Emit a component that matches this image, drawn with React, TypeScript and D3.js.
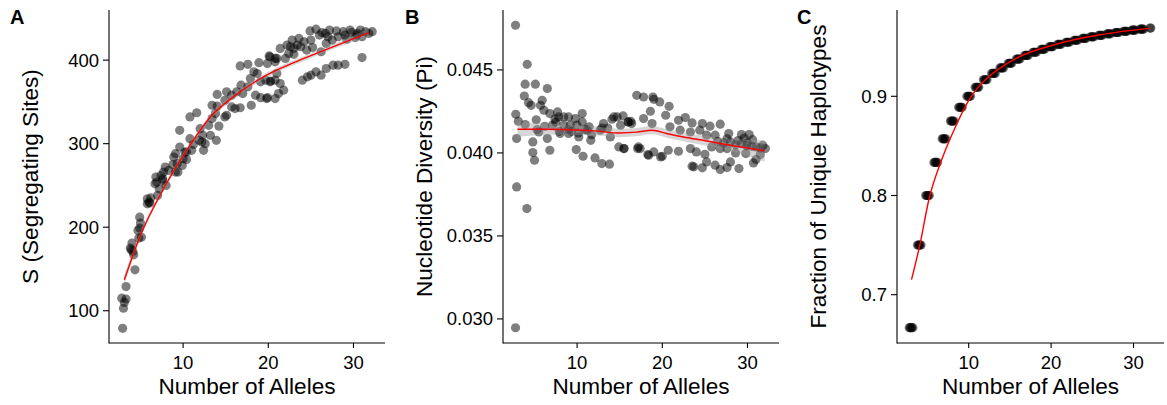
import React from "react";
import * as d3 from "d3";

const W = 1167;
const H = 405;
const FONT = "'Liberation Sans', Arial, Helvetica, sans-serif";
const TOP = 10;
const BOTTOM = 343;
const X_DOMAIN = [1.3, 33.7];
const X_TICKS = [10, 20, 30];

// ---- Panel A: segregating sites ----
const pointsA: [number, number][] = [
  [2.9, 79], [3.0, 103], [2.8, 115], [3.3, 114], [3.1, 110], [3.3, 129],
  [4.35, 149], [4.2, 167], [3.8, 175], [4.0, 181], [3.9, 173], [4.1, 171],
  [4.8, 187], [4.9, 199], [5.0, 205], [4.9, 212], [5.1, 188], [4.7, 196],
  [5.8, 234], [6.0, 230], [5.8, 228], [6.1, 229], [6.2, 235],
  [6.7, 252], [6.8, 260], [7.6, 256], [7.2, 246], [7.0, 238], [6.9, 254], [7.4, 262],
  [7.9, 272], [7.7, 266], [7.6, 258], [8.0, 250], [8.3, 268],
  [9.1, 266], [8.9, 284], [9.1, 288], [9.3, 276], [8.8, 275], [9.4, 266],
  [9.6, 296], [9.9, 274], [10.0, 282], [9.6, 316], [10.2, 290], [10.4, 281],
  [10.4, 290], [11.0, 292], [10.8, 306], [10.8, 332], [11.6, 337], [11.2, 299],
  [12.0, 318], [12.2, 302], [12.4, 292], [12.6, 300], [12.3, 310], [11.9, 304],
  [13.2, 310], [13.9, 304], [14.2, 321], [13.4, 330], [13.4, 346], [13.0, 322],
  [14.0, 345], [13.8, 336], [14.0, 359], [15.1, 362], [14.9, 352], [15.1, 334], [14.9, 332],
  [15.7, 344], [16.1, 342], [16.7, 343], [15.7, 358], [16.3, 362], [16.8, 370], [17.0, 360],
  [17.6, 368], [16.7, 393], [17.6, 395],
  [18.0, 346], [18.5, 358], [19.1, 355], [19.9, 355], [20.8, 354],
  [17.9, 378], [18.3, 386], [18.7, 384], [19.1, 374], [19.7, 376], [20.3, 375], [20.8, 376],
  [18.9, 397], [19.9, 396], [20.1, 405], [20.8, 402],
  [20.2, 404], [21.0, 402], [22.0, 402], [22.4, 408], [23.0, 407], [22.6, 416], [23.4, 418],
  [24.2, 422], [25.0, 424], [26.0, 430], [26.7, 432],
  [20.8, 398], [21.0, 384], [21.4, 372], [21.8, 364], [21.2, 360], [19.8, 354], [20.2, 374],
  [24.0, 376], [24.6, 380], [25.0, 382], [25.6, 386], [26.2, 382], [26.8, 390], [27.6, 394],
  [28.2, 394], [29.0, 395],
  [21.4, 414], [22.2, 418], [23.0, 414], [23.8, 416], [24.5, 412], [25.2, 415], [26.2, 410],
  [26.8, 420], [27.5, 424], [28.2, 428], [29.0, 430], [29.8, 433], [30.5, 432], [24.9, 435],
  [25.6, 437], [26.3, 433], [27.2, 436], [28.0, 435], [28.8, 434], [29.6, 436], [30.4, 430],
  [31.0, 428], [31.4, 434], [30.8, 436], [31.8, 432], [31.0, 403], [32.2, 434], [29.2, 425],
  [30.2, 427], [27.0, 428], [23.6, 426], [22.8, 424],
];
const smoothXA = [3.1, 4.9, 7.7, 10.8, 13.2, 15.9, 19.1, 21.4, 24.2, 28.1, 31.8];
const smoothYA = [137, 188, 246, 298, 332, 356, 378, 390, 402, 418, 433];
const seA = [6, 4, 3, 3, 3, 3, 3, 3, 3, 3, 5];

// ---- Panel B: nucleotide diversity ----
const pointsB: [number, number][] = [
  [2.77, 0.04769], [2.77, 0.02947], [2.9, 0.03795], [2.8, 0.04233], [3.1, 0.04191], [2.9, 0.04087],
  [4.14, 0.04534], [4.1, 0.03665], [3.9, 0.04414], [3.8, 0.04343], [4.3, 0.04303], [3.9, 0.04171], [4.6, 0.04287],
  [5.1, 0.04414], [4.8, 0.04066], [4.8, 0.04002], [5.0, 0.03956], [5.3, 0.0414], [5.2, 0.042],
  [6.5, 0.04388], [5.9, 0.04317], [5.7, 0.04287], [6.1, 0.04257], [5.5, 0.04126], [6.5, 0.04087],
  [6.8, 0.04016], [6.2, 0.0416],
  [6.8, 0.04237], [7.7, 0.04247], [7.1, 0.04167], [7.4, 0.04205], [7.9, 0.0413], [7.5, 0.04185],
  [7.84, 0.04217], [8.43, 0.04217], [9.0, 0.04217], [9.8, 0.04207], [10.6, 0.04187], [11.4, 0.04157],
  [8.43, 0.04167], [9.2, 0.04167], [9.98, 0.04167], [8.0, 0.04117], [9.0, 0.04117], [10.2, 0.04096],
  [11.6, 0.04076], [11.2, 0.04137], [9.9, 0.0402], [10.7, 0.0398], [12.1, 0.0397], [12.9, 0.03936],
  [13.8, 0.03932], [14.1, 0.04203], [14.7, 0.04217], [14.9, 0.04036], [15.5, 0.04026], [12.7, 0.04137],
  [13.1, 0.04177], [13.9, 0.04096], [16.0, 0.04187], [16.4, 0.04177], [17.1, 0.04026],
  [8.97, 0.0414], [9.36, 0.0413], [10.14, 0.0412], [10.9, 0.0414], [11.7, 0.0411], [12.9, 0.0415],
  [13.6, 0.0415], [10.6, 0.04237], [14.3, 0.04217], [15.4, 0.04223],
  [17.0, 0.04347], [17.8, 0.04337], [18.9, 0.04337], [19.7, 0.04307], [20.8, 0.04281], [19.0, 0.04323],
  [18.6, 0.04251], [20.4, 0.04227], [16.0, 0.04187], [17.8, 0.04207], [18.8, 0.04177], [15.1, 0.04167],
  [16.3, 0.0419],
  [21.9, 0.04197], [22.7, 0.04213], [23.5, 0.04181], [24.7, 0.04177], [25.6, 0.04161], [26.8, 0.04173],
  [20.9, 0.04157], [22.1, 0.04137], [23.3, 0.04126], [24.4, 0.04137], [25.2, 0.04107], [26.2, 0.04107],
  [27.8, 0.04117], [29.3, 0.04111], [30.2, 0.04111],
  [15.5, 0.04026], [17.4, 0.04026], [19.0, 0.04006], [20.0, 0.0398], [20.7, 0.04016], [21.9, 0.0401],
  [23.3, 0.04026], [24.0, 0.04006], [25.0, 0.03992], [25.8, 0.04036], [26.8, 0.04026], [27.6, 0.04026],
  [28.6, 0.04], [29.8, 0.03996], [18.3, 0.0399], [17.2, 0.04036], [18.4, 0.03986], [19.8, 0.03976],
  [23.5, 0.0392], [24.7, 0.0391], [25.2, 0.03946], [26.2, 0.03926], [26.8, 0.039], [27.6, 0.03912],
  [28.0, 0.03946], [29.0, 0.03906], [30.7, 0.0394], [32.1, 0.04026], [23.7, 0.03916],
  [26.5, 0.0407], [27.2, 0.0406], [28.0, 0.04066], [28.6, 0.0405], [29.3, 0.04055], [29.9, 0.04044],
  [30.5, 0.0404], [31.0, 0.04036], [31.5, 0.0403], [31.8, 0.04045], [30.0, 0.0406], [28.9, 0.04075],
  [27.6, 0.04085], [31.5, 0.0399], [31.0, 0.0396], [30.6, 0.0408], [29.6, 0.0409],
];
const smoothXB = [3, 6, 9, 12, 15, 17, 18.8, 20.5, 22.5, 24.8, 28, 30, 32];
const smoothYB = [0.04143, 0.04143, 0.0414, 0.04133, 0.0412, 0.04125, 0.04137, 0.04117, 0.04096, 0.04076, 0.04046, 0.0403, 0.04013];
const seB = [0.00045, 0.00035, 0.0003, 0.00027, 0.00025, 0.00025, 0.00025, 0.00025, 0.00025, 0.00028, 0.00035, 0.00048, 0.00065];

// ---- Panel C: fraction of unique haplotypes ----
const allelesC = [3, 4, 5, 6, 7, 8, 9, 10, 11, 12, 13, 14, 15, 16, 17, 18, 19, 20, 21, 22, 23, 24, 25, 26, 27, 28, 29, 30, 31, 32];
const fractionC = [
  0.6667, 0.75, 0.8, 0.8333, 0.8571, 0.875, 0.8889, 0.9, 0.9091, 0.9167, 0.9231, 0.9286, 0.9333, 0.9375, 0.9412,
  0.9444, 0.9474, 0.95, 0.9524, 0.9545, 0.9565, 0.9583, 0.96, 0.9615, 0.963, 0.9643, 0.9655, 0.9667, 0.9677, 0.9688,
];
const jitterC = [-0.22, -0.1, 0, 0.1, 0.22];
const smoothXC = [3.06, 4.04, 5.2, 6.77, 8.33, 9.9, 10.85, 12.2, 15.7, 20.4, 25.9, 32];
const smoothYC = [0.7152, 0.749, 0.797, 0.837, 0.868, 0.8944, 0.906, 0.918, 0.938, 0.952, 0.962, 0.9685];

const pointsC: [number, number][] = allelesC.flatMap((n, i) =>
  (n === 32 ? [0, 0.1] : jitterC).map((o) => [n + o, fractionC[i]] as [number, number])
);

type PanelProps = {
  label: string;
  labelX: number;
  left: number;
  right: number;
  yDomain: [number, number];
  yTicks: number[];
  yFormat: (v: number) => string;
  yTitle: string;
  yTitleX: number;
  points: [number, number][];
  smoothX: number[];
  smoothY: number[];
  se?: number[];
};

function Panel(p: PanelProps) {
  const x = d3.scaleLinear().domain(X_DOMAIN).range([p.left, p.right]);
  const y = d3.scaleLinear().domain(p.yDomain).range([BOTTOM, TOP]);

  const idx = d3.range(p.smoothX.length);
  const line = d3
    .line<number>()
    .x((i) => x(p.smoothX[i]))
    .y((i) => y(p.smoothY[i]))
    .curve(d3.curveMonotoneX);
  const area = d3
    .area<number>()
    .x((i) => x(p.smoothX[i]))
    .y0((i) => y(p.smoothY[i] - (p.se ? p.se[i] : 0)))
    .y1((i) => y(p.smoothY[i] + (p.se ? p.se[i] : 0)))
    .curve(d3.curveMonotoneX);

  const midY = (TOP + BOTTOM) / 2;
  const midX = (p.left + p.right) / 2;

  return (
    <g>
      <text x={p.labelX} y={24} fontFamily={FONT} fontWeight="bold" fontSize={20}>
        {p.label}
      </text>
      {p.points.map((d, i) => (
        <circle key={i} cx={x(d[0])} cy={y(d[1])} r={4.6} fill="#000" fillOpacity={0.5} />
      ))}
      {p.se && <path d={area(idx) || ""} fill="#999" fillOpacity={0.4} />}
      <path d={line(idx) || ""} fill="none" stroke="#ff0000" strokeWidth={1.4} />
      {/* axes */}
      <line x1={p.left} x2={p.left} y1={TOP} y2={BOTTOM + 0.5} stroke="#000" strokeWidth={1.1} />
      <line x1={p.left} x2={p.right} y1={BOTTOM} y2={BOTTOM} stroke="#000" strokeWidth={1.1} />
      {X_TICKS.map((t) => (
        <g key={t}>
          <line x1={x(t)} x2={x(t)} y1={BOTTOM} y2={BOTTOM + 5} stroke="#000" strokeWidth={1.1} />
          <text x={x(t)} y={368.5} textAnchor="middle" fontFamily={FONT} fontSize={18.5}>
            {t}
          </text>
        </g>
      ))}
      {p.yTicks.map((t) => (
        <g key={t}>
          <line x1={p.left - 6} x2={p.left} y1={y(t)} y2={y(t)} stroke="#000" strokeWidth={1.1} />
          <text x={p.left - 10} y={y(t) + 6.5} textAnchor="end" fontFamily={FONT} fontSize={18.5}>
            {p.yFormat(t)}
          </text>
        </g>
      ))}
      <text x={midX} y={394} textAnchor="middle" fontFamily={FONT} fontSize={22.6}>
        Number of Alleles
      </text>
      <text
        transform={`translate(${p.yTitleX},${midY}) rotate(-90)`}
        textAnchor="middle"
        fontFamily={FONT}
        fontSize={22.6}
      >
        {p.yTitle}
      </text>
    </g>
  );
}

export default function App() {
  return (
    <svg
      width={W}
      height={H}
      style={{ position: "absolute", left: 0, top: 0, background: "#fff" }}
    >
      <rect width={W} height={H} fill="#fff" />
      <Panel
        label="A"
        labelX={10}
        left={109}
        right={385}
        yDomain={[61.4, 460]}
        yTicks={[100, 200, 300, 400]}
        yFormat={(v) => String(v)}
        yTitle="S (Segregating Sites)"
        yTitleX={38}
        points={pointsA}
        smoothX={smoothXA}
        smoothY={smoothYA}
        se={seA}
      />
      <Panel
        label="B"
        labelX={405}
        left={503}
        right={779}
        yDomain={[0.02855, 0.04861]}
        yTicks={[0.03, 0.035, 0.04, 0.045]}
        yFormat={d3.format(".3f")}
        yTitle="Nucleotide Diversity (Pi)"
        yTitleX={432}
        points={pointsB}
        smoothX={smoothXB}
        smoothY={smoothYB}
        se={seB}
      />
      <Panel
        label="C"
        labelX={797}
        left={897}
        right={1164}
        yDomain={[0.6513, 0.987]}
        yTicks={[0.7, 0.8, 0.9]}
        yFormat={d3.format(".1f")}
        yTitle="Fraction of Unique Haplotypes"
        yTitleX={826}
        points={pointsC}
        smoothX={smoothXC}
        smoothY={smoothYC}
      />
    </svg>
  );
}
